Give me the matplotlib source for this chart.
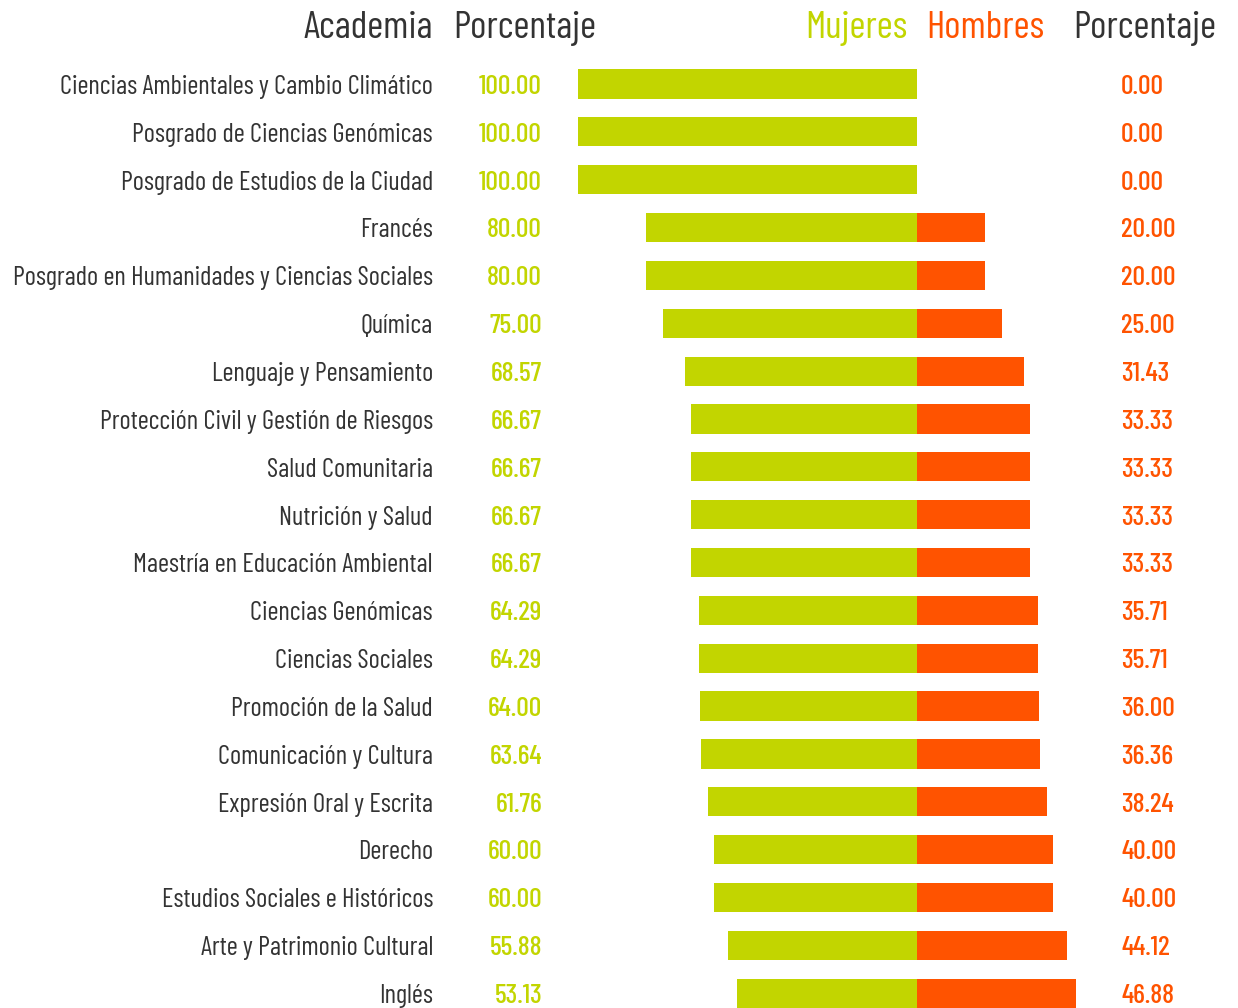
import matplotlib
matplotlib.use('Agg')
import matplotlib.pyplot as plt

# datos
academias = [
    "Ciencias Ambientales y Cambio Climático",
    "Posgrado de Ciencias Genómicas",
    "Posgrado de Estudios de la Ciudad",
    "Francés",
    "Posgrado en Humanidades y Ciencias Sociales",
    "Química",
    "Lenguaje y Pensamiento",
    "Protección Civil y Gestión de Riesgos",
    "Salud Comunitaria",
    "Nutrición y Salud",
    "Maestría en Educación Ambiental",
    "Ciencias Genómicas",
    "Ciencias Sociales",
    "Promoción de la Salud",
    "Comunicación y Cultura",
    "Expresión Oral y Escrita",
    "Derecho",
    "Estudios Sociales e Históricos",
    "Arte y Patrimonio Cultural",
    "Inglés",
]
mujeres = [100.00, 100.00, 100.00, 80.00, 80.00, 75.00, 68.57, 66.67, 66.67, 66.67,
           66.67, 64.29, 64.29, 64.00, 63.64, 61.76, 60.00, 60.00, 55.88, 53.13]
hombres = [0.00, 0.00, 0.00, 20.00, 20.00, 25.00, 31.43, 33.33, 33.33, 33.33,
           33.33, 35.71, 35.71, 36.00, 36.36, 38.24, 40.00, 40.00, 44.12, 46.88]

VERDE = '#c2d500'
NARANJA = '#ff5300'
GRIS = '#333333'

# fuente condensada (si no esta Barlow, DejaVu Sans Condensed)
plt.rcParams['font.family'] = ['Barlow Condensed', 'DejaVu Sans']
plt.rcParams['font.stretch'] = 'condensed'

fig = plt.figure(figsize=(12.38, 10.08), dpi=100)
ax = fig.add_axes([0, 0, 1, 1])
ax.set_xlim(-270.5, 94.7)
ax.set_ylim(19.31, -1.756)
ax.axis('off')

y = list(range(len(academias)))
ax.barh(y, [-m for m in mujeres], height=0.61, color=VERDE)
ax.barh(y, hombres, height=0.61, color=NARANJA)

dy = 0.06  # pequeño ajuste vertical del texto
for i in y:
    ax.text(-142.8, i + dy, academias[i], ha='right', va='center', fontsize=19.2, color=GRIS)
    ax.text(-110.6, i + dy, f"{mujeres[i]:.2f}", ha='right', va='center', fontsize=20, color=VERDE, weight='medium')
    ax.text(60.2, i + dy, f"{hombres[i]:.2f}", ha='left', va='center', fontsize=20, color=NARANJA, weight='medium')

# encabezados
yh = -1.15
ax.text(-142.8, yh, "Academia", ha='right', va='center', fontsize=28, color=GRIS)
ax.text(-136.9, yh, "Porcentaje", ha='left', va='center', fontsize=28, color=GRIS)
ax.text(-2.9, yh, "Mujeres", ha='right', va='center', fontsize=28, color=VERDE)
ax.text(2.65, yh, "Hombres", ha='left', va='center', fontsize=28, color=NARANJA)
ax.text(88.2, yh, "Porcentaje", ha='right', va='center', fontsize=28, color=GRIS)

fig.savefig('out.png', dpi=100)
